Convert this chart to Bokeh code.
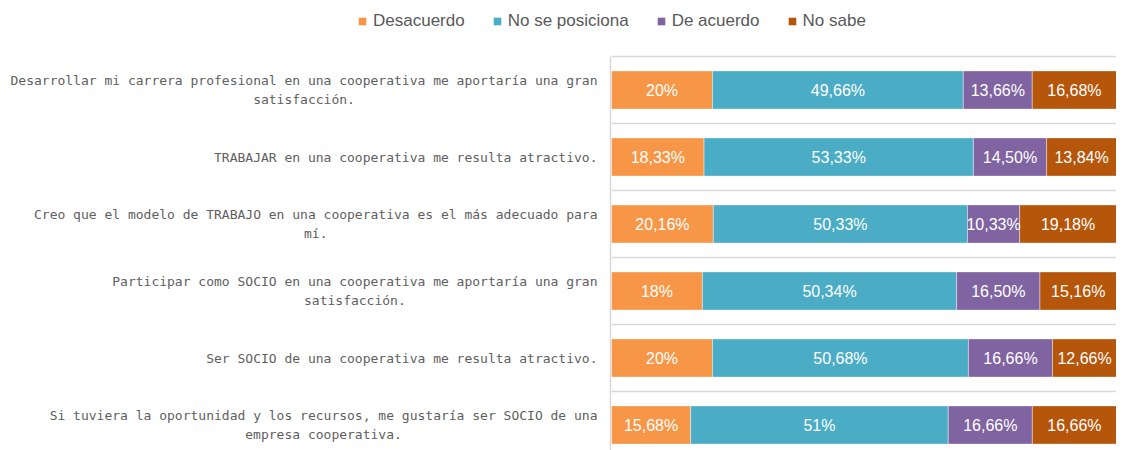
from bokeh.plotting import figure
from bokeh.models import ColumnDataSource, Range1d
from bokeh.core.properties import value
from bokeh.embed import file_html
from bokeh.resources import INLINE
import numpy as np

# ---------------- data ----------------
statements = [
    "Desarrollar mi carrera profesional en una cooperativa me aportaría una gran\nsatisfacción.",
    "TRABAJAR en una cooperativa me resulta atractivo.",
    "Creo que el modelo de TRABAJO en una cooperativa es el más adecuado para\nmí.",
    "Participar como SOCIO en una cooperativa me aportaría una gran\nsatisfacción.",
    "Ser SOCIO de una cooperativa me resulta atractivo.",
    "Si tuviera la oportunidad y los recursos, me gustaría ser SOCIO de una\nempresa cooperativa.",
]
series_names = ["Desacuerdo", "No se posiciona", "De acuerdo", "No sabe"]
desacuerdo = [20, 18.33, 20.16, 18, 20, 15.68]
no_se_posiciona = [49.66, 53.33, 50.33, 50.34, 50.68, 51]
de_acuerdo = [13.66, 14.50, 10.33, 16.50, 16.66, 16.66]
no_sabe = [16.68, 13.84, 19.18, 15.16, 12.66, 16.66]
colors = ["#F79646", "#4BACC6", "#8064A2", "#B5560A"]

# ---------------- layout ----------------
W, H = 1116, 450
n = len(statements)
ypos = [n - 1 - i for i in range(n)]  # first statement on top

X0_PX, BAND_PX, TOP_PX = 611, 67, 56
px_per_pct = (W - X0_PX) / 100.0
y_top = (n - 0.5) + TOP_PX / BAND_PX
y_bot = y_top - H / BAND_PX

p = figure(width=W, height=H, output_backend="svg", toolbar_location=None,
           x_range=Range1d(-X0_PX / px_per_pct, 100), y_range=Range1d(y_bot, y_top),
           x_axis_location=None, y_axis_location=None,
           min_border=0, outline_line_color=None)
p.grid.visible = False

keys = ["desacuerdo", "no_se_posiciona", "de_acuerdo", "no_sabe"]
src = ColumnDataSource(dict(y=ypos, desacuerdo=desacuerdo, no_se_posiciona=no_se_posiciona,
                            de_acuerdo=de_acuerdo, no_sabe=no_sabe))

# grid lines between categories and axis line
grid_y = [i + 0.5 for i in range(n)]
p.segment(x0=[0] * n, x1=[100] * n, y0=grid_y, y1=grid_y, line_color="#D9D9D9", line_width=1.5)
p.segment(x0=[-0.2], x1=[-0.2], y0=[y_bot], y1=[n - 0.5], line_color="#D9D9D9", line_width=1.5)

p.hbar_stack(keys, y="y", height=0.57, color=colors, source=src,
             line_color="white", line_width=0.8, line_alpha=0.5,
             legend_label=series_names)

# value labels
vals = np.array([desacuerdo, no_se_posiciona, de_acuerdo, no_sabe], dtype=float)
cum = np.cumsum(vals, axis=0)
centers = cum - vals / 2


def fmt(v):
    if abs(v - round(v)) < 1e-9:
        return f"{int(round(v))}%"
    return f"{v:.2f}".replace(".", ",") + "%"


lx, ly, lt = [], [], []
for s in range(vals.shape[0]):
    for i in range(n):
        lx.append(centers[s, i])
        ly.append(ypos[i])
        lt.append(fmt(vals[s, i]))
p.text(x=lx, y=ly, text=lt, text_align="center", text_baseline="middle",
       text_color="white", text_font=value("Liberation Sans"), text_font_size="16px")

# category labels
p.text(x=[-14 / px_per_pct] * n, y=ypos, text=statements, text_align="center",
       anchor=value("center_right"), text_baseline="middle",
       text_font=value("DejaVu Sans Mono"), text_font_size="13px",
       text_color="#606060", text_line_height=1.3)

# legend
leg = p.legend[0]
leg.orientation = "horizontal"
leg.location = (357, H - 31)
leg.padding = 0
leg.margin = 0
leg.spacing = 27
leg.label_standoff = 6
leg.glyph_width = 10
leg.glyph_height = 10
leg.label_height = 20
leg.label_text_font = "Liberation Sans"
leg.label_text_font_size = "17px"
leg.label_text_color = "#595959"
leg.border_line_color = None
leg.background_fill_alpha = 0

open("out.html", "w").write(file_html(p, INLINE))
